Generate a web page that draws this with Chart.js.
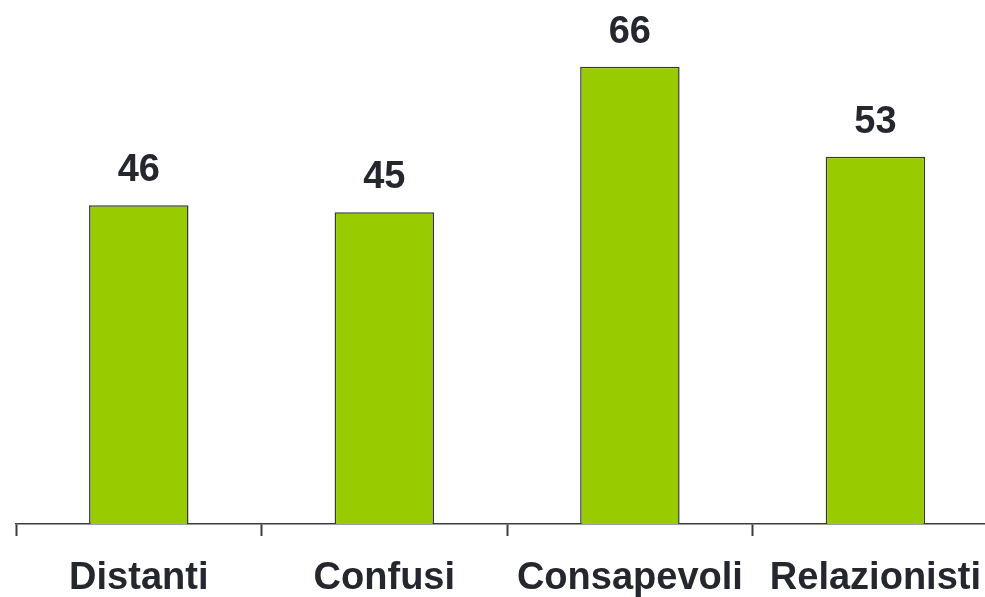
<!DOCTYPE html>
<html>
<head>
<meta charset="utf-8">
<script src="https://cdn.jsdelivr.net/npm/chart.js@4"></script>
<style>
  html, body { margin: 0; padding: 0; background: #fff; overflow: hidden; }
  canvas { display: block; }
</style>
</head>
<body>
<canvas id="c" width="1001" height="597"></canvas>
<script>
const categories = ['Distanti', 'Confusi', 'Consapevoli', 'Relazionisti'];
const values = [46, 45, 66, 53];

const textColor = '#24272e';
const fontFamily = '"Liberation Sans", Arial, Helvetica, sans-serif';

// Writes each bar's value above it
const valueLabels = {
  id: 'valueLabels',
  afterDatasetsDraw(chart) {
    const ctx = chart.ctx;
    const meta = chart.getDatasetMeta(0);
    ctx.save();
    ctx.font = 'bold 38px ' + fontFamily;
    ctx.fillStyle = textColor;
    ctx.textAlign = 'center';
    ctx.textBaseline = 'alphabetic';
    meta.data.forEach((bar, i) => {
      ctx.fillText(String(values[i]), bar.x, bar.y - 24);
    });
    ctx.restore();
  }
};

new Chart(document.getElementById('c'), {
  type: 'bar',
  data: {
    labels: categories,
    datasets: [{
      data: values,
      backgroundColor: '#99cc00',
      borderColor: '#33363a',
      borderWidth: 1.5,
      borderSkipped: 'bottom',
      barPercentage: 0.405,
      categoryPercentage: 1.0
    }]
  },
  options: {
    responsive: false,
    animation: false,
    layout: { padding: { left: 16, right: 0, top: 39, bottom: 0 } },
    plugins: { legend: { display: false }, tooltip: { enabled: false } },
    scales: {
      x: {
        offset: true,
        border: { display: true, color: '#3a3d42', width: 1.5 },
        grid: {
          display: true,
          offset: true,
          drawOnChartArea: false,
          drawTicks: true,
          tickLength: 12,
          tickColor: '#3a3d42',
          tickWidth: 2
        },
        ticks: {
          autoSkip: false,
          maxRotation: 0,
          minRotation: 0,
          padding: 20,
          color: textColor,
          font: { family: fontFamily, size: 38, weight: 'bold' }
        },
        afterFit(scale) { scale.height = 73; }
      },
      y: {
        display: false,
        min: 0,
        max: 70
      }
    }
  },
  plugins: [valueLabels]
});
</script>
</body>
</html>
